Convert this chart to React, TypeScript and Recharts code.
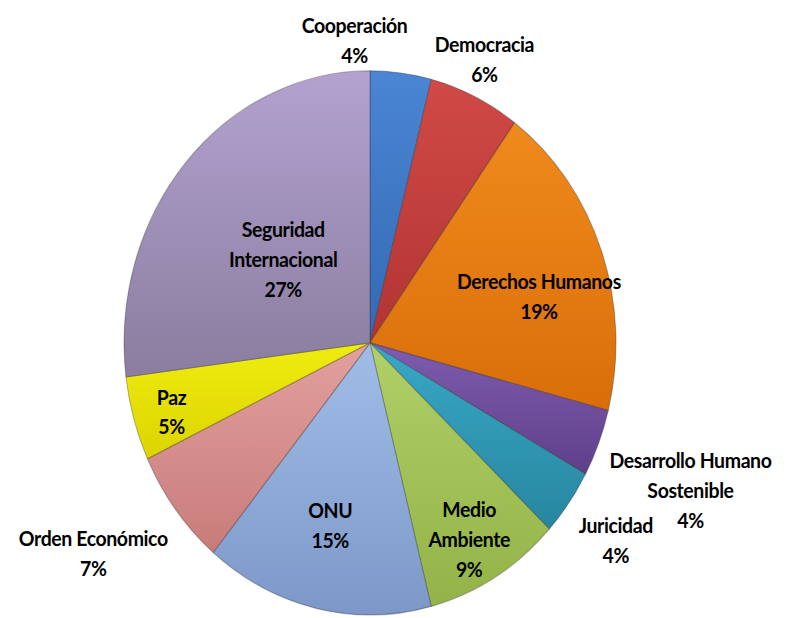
import { PieChart, Pie, Cell } from 'recharts';

const categories = [
  'Cooperación',
  'Democracia',
  'Derechos Humanos',
  'Desarrollo Humano Sostenible',
  'Juricidad',
  'Medio Ambiente',
  'ONU',
  'Orden Económico',
  'Paz',
  'Seguridad Internacional',
];

const shares = [4, 6, 19, 4, 4, 9, 15, 7, 5, 27];

// how each label is broken into lines
const labelLines = [
  ['Cooperación'],
  ['Democracia'],
  ['Derechos Humanos'],
  ['Desarrollo Humano', 'Sostenible'],
  ['Juricidad'],
  ['Medio', 'Ambiente'],
  ['ONU'],
  ['Orden Económico'],
  ['Paz'],
  ['Seguridad', 'Internacional'],
];

// [top colour, bottom colour]
const sliceColors = [
  ['#4a86d4', '#3468b3'],
  ['#d04a47', '#b23432'],
  ['#f08a1c', '#d96e0a'],
  ['#7f5cae', '#5f3f8a'],
  ['#38a8c6', '#27869f'],
  ['#b0d068', '#93b348'],
  ['#a0bde8', '#7d98c8'],
  ['#e2a09e', '#c87c7a'],
  ['#f0ec10', '#dcd400'],
  ['#b3a2d0', '#8a7d9f'],
];

// label placement relative to the slice's middle ray
const labelPos = [
  { r: 1.12, dx: -50, dy: -1 },
  { r: 1.15, dx: -6, dy: -1 },
  { r: 0.73, dx: 0, dy: 18 },
  { r: 1.41, dx: -2, dy: 5 },
  { r: 1.23, dx: 1, dy: 0 },
  { r: 0.84, dx: -6, dy: -1 },
  { r: 0.685, dx: -3, dy: 0 },
  { r: 1.3, dx: -24, dy: -6 },
  { r: 0.84, dx: 0, dy: 4 },
  { r: 0.47, dx: 0, dy: 0 },
];

const data = categories.map((name, i) => ({ name, value: shares[i] }));
const total = shares.reduce((a, b) => a + b, 0);

const RAD = Math.PI / 180;
const LINE_H = 27;
const STRETCH = 1.106;

const renderLabel = (props: any) => {
  const { cx, cy, midAngle, outerRadius, index, value } = props;
  const pos = labelPos[index];
  const r = outerRadius * pos.r;
  const x = cx + r * Math.cos(-midAngle * RAD) + pos.dx;
  const y = cy + r * Math.sin(-midAngle * RAD) + pos.dy;
  const lines = [...labelLines[index], `${Math.round((value / total) * 100)}%`];
  const y0 = y - ((lines.length - 1) * LINE_H) / 2;
  return (
    <text
      x={x}
      y={y0}
      textAnchor="middle"
      dominantBaseline="central"
      fill="#000"
      style={{ fontFamily: 'Lato, sans-serif', fontWeight: 700, fontSize: 19.5, letterSpacing: -0.4 }}
    >
      {lines.map((ln, j) => (
        <tspan key={j} x={x} y={y0 + j * LINE_H}>
          {ln}
        </tspan>
      ))}
    </text>
  );
};

export default function App() {
  return (
    <div
      style={{
        position: 'absolute',
        left: 0,
        top: 0,
        width: 787,
        height: 618,
        overflow: 'hidden',
        background: '#fff',
      }}
    >
      <div style={{ transform: `scaleY(${STRETCH})`, transformOrigin: 'top left' }}>
        <PieChart width={787} height={560} margin={{ top: 0, right: 0, bottom: 0, left: 0 }}>
          <defs>
            {sliceColors.map(([top, bottom], i) => (
              <linearGradient key={i} id={`slice-${i}`} x1="0" y1="0" x2="0" y2="1">
                <stop offset="0%" stopColor={top} />
                <stop offset="100%" stopColor={bottom} />
              </linearGradient>
            ))}
          </defs>
          <Pie
            data={data}
            dataKey="value"
            nameKey="name"
            cx={370}
            cy={310}
            outerRadius={246}
            startAngle={90}
            endAngle={-270}
            stroke="rgba(40,40,40,0.35)"
            strokeWidth={1}
            labelLine={false}
            label={renderLabel}
            isAnimationActive={false}
          >
            {data.map((_entry, index) => (
              <Cell key={`cell-${index}`} fill={`url(#slice-${index})`} />
            ))}
          </Pie>
        </PieChart>
      </div>
    </div>
  );
}
